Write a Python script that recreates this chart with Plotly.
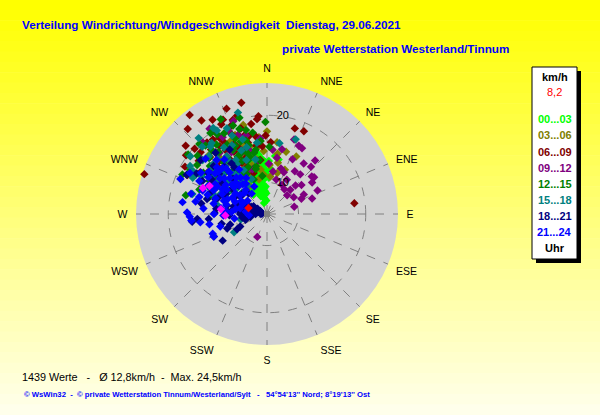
import plotly.graph_objects as go

# Stundengruppen und Farben wie in der WsWin-Grafik
groups = ["00...03", "03...06", "06...09", "09...12", "12...15", "15...18", "18...21", "21...24"]
colors = ["#00ff00", "#808000", "#800000", "#800080", "#008000", "#008080", "#000080", "#0000ff"]

compass = ["N", "NNE", "NE", "ENE", "E", "ESE", "SE", "SSE",
           "S", "SSW", "SW", "WSW", "W", "WNW", "NW", "NNW"]
compass_deg = [0, 22.5, 45, 67.5, 90, 112.5, 135, 157.5,
               180, 202.5, 225, 247.5, 270, 292.5, 315, 337.5]

# Richtung (Grad) und Geschwindigkeit (km/h)
dir_00_03 = [350, 345, 355, 340, 358, 348, 352, 338, 344, 356, 349, 342, 335, 347, 353, 359, 346, 341,
             351, 337, 354, 343, 330, 348, 2, 5, 8, 357, 350, 333, 345, 339, 352, 346, 328, 355, 340,
             349, 344, 351, 336, 347, 12, 3, 358, 342, 353, 325, 348, 343,
             347, 343, 356, 339, 351, 334, 345, 357, 341, 349, 337, 353, 331, 346, 355, 340, 350, 344,
             358, 336]
spd_00_03 = [9.5, 10.2, 11.0, 12.1, 8.4, 13.0, 14.2, 9.0, 11.5, 12.6, 7.8, 13.6, 10.8, 8.9, 10.4, 11.8,
             14.8, 8.1, 12.9, 12.4, 9.2, 10.9, 9.6, 11.3, 13.2, 12.0, 14.0, 7.3, 14.6, 11.9, 7.0, 13.9,
             9.8, 12.2, 10.1, 13.5, 10.5, 11.1, 8.6, 7.6, 12.8, 9.9, 13.6, 10.7, 11.4, 12.5, 8.2, 8.8,
             10.0, 14.3,
             9.1, 12.7, 10.6, 11.0, 13.8, 12.3, 14.0, 9.4, 8.3, 12.0, 13.3, 11.6, 12.6, 10.3, 8.7, 13.1,
             10.9, 9.7, 13.0, 11.7]

dir_03_06 = [8, 17, 27, 3, 350, 340, 335, 355, 12, 345, 330, 325, 0, 352, 22, 338, 347, 5, 342, 318,
             357, 333, 14, 349, 328, 336, 344, 10, 354, 320,
             337, 343, 331, 348, 326, 339, 352, 334, 322, 346,
             315, 323, 330, 310, 338, 345]
spd_03_06 = [16.1, 15.0, 14.9, 12.6, 13.5, 14.2, 16.0, 11.2, 13.1, 17.0, 12.8, 15.5, 17.6, 15.4, 12.4,
             11.8, 10.6, 10.9, 16.6, 13.9, 14.7, 17.4, 11.6, 12.3, 10.2, 13.0, 15.1, 14.4, 16.8, 16.4,
             14.8, 12.9, 14.1, 13.8, 13.0, 15.9, 12.0, 11.4, 14.9, 15.7,
             17.6, 18.5, 16.2, 15.4, 18.0, 19.0]

dir_06_09 = [347, 333, 317, 306, 288, 83, 18, 24, 359, 322, 338, 328, 312, 343, 350, 325, 315, 330,
             340, 308, 320, 335, 355, 302, 345, 318, 327, 310, 336, 352, 341, 314, 323, 332, 305, 348,
             300, 326, 339, 356, 319, 311, 334, 344, 329, 304, 321, 337, 353, 316, 3, 296, 331, 342,
             339, 325, 354,
             321, 329, 337, 343, 313, 333, 347, 326, 318, 340, 309, 335, 351, 324, 330]
spd_06_09 = [22.3, 20.3, 22.6, 20.2, 24.5, 18.4, 18.7, 18.8, 17.0, 24.0, 19.5, 18.7, 19.8, 20.6, 18.9,
             17.6, 17.3, 21.5, 17.8, 18.2, 19.2, 16.8, 19.9, 17.0, 16.3, 15.9, 16.6, 21.1, 18.3, 16.9,
             15.2, 15.6, 14.9, 15.8, 16.1, 14.7, 19.4, 20.0, 14.2, 15.4, 18.0, 14.1, 13.8, 17.5, 14.5,
             13.6, 13.3, 12.9, 13.4, 12.6, 16.0, 18.5, 12.1, 11.7, 22.1, 22.3, 19.5,
             17.0, 17.9, 16.0, 18.6, 18.8, 14.8, 17.2, 15.0, 19.6, 20.2, 15.4, 20.8, 15.6, 19.0, 13.9]

dir_09_12 = [43, 71, 66, 44, 45, 13, 33, 203, 17, 326, 55, 50, 25, 25, 50, 30, 62, 20, 42, 35, 10, 40,
             58, 28, 75, 52, 15, 5, 340, 335, 320, 345, 350, 355, 330, 22, 36, 47, 8, 65, 310, 315, 342,
             2, 27,
             315, 322, 330, 338, 345, 305, 318, 326, 334, 300, 312, 340]
spd_09_12 = [14.9, 12.4, 10.9, 10.3, 11.3, 15.2, 12.9, 9.0, 12.4, 20.6, 13.5, 14.0, 16.5, 14.3, 12.0,
             11.2, 11.5, 17.1, 16.0, 9.8, 13.8, 13.0, 10.0, 16.4, 9.5, 14.2, 10.6, 14.9, 17.8, 19.0,
             17.3, 15.0, 13.3, 16.6, 15.9, 12.0, 14.6, 9.4, 11.7, 13.6, 18.3, 16.2, 12.3, 12.8, 10.2,
             14.5, 16.8, 18.5, 15.2, 17.4, 13.0, 19.6, 13.8, 12.2, 15.0, 11.6, 20.0]

dir_12_15 = [307, 283, 295, 359, 320, 330, 340, 345, 310, 315, 325, 335, 350, 300, 318, 328, 338, 348,
             355, 305, 312, 322, 332, 342, 352, 298, 316, 326, 336, 346, 303, 313, 323, 333, 343, 353,
             290, 309, 319, 329, 339, 2, 286, 344, 334,
             314, 327, 341, 320, 333, 347, 306, 324, 337, 317, 331, 350, 311, 344, 328,
             303, 310, 318, 325, 332, 339, 346, 300, 314, 321, 335, 342]
spd_12_15 = [20.0, 17.7, 19.2, 19.0, 18.5, 17.2, 16.8, 15.9, 16.4, 14.8, 15.6, 14.0, 17.6, 15.2, 13.2,
             19.3, 12.8, 14.6, 16.2, 18.0, 12.4, 17.0, 16.1, 18.6, 13.4, 13.8, 19.8, 13.0, 15.1, 12.2,
             11.8, 15.8, 11.4, 12.0, 14.2, 11.0, 16.0, 13.6, 17.8, 14.4, 10.8, 15.3, 14.3, 20.2, 21.0,
             17.3, 12.6, 13.8, 15.3, 14.9, 12.6, 14.9, 18.1, 17.5, 12.0, 16.6, 15.0, 15.8, 16.7, 11.9,
             16.6, 18.8, 19.0, 20.0, 18.9, 19.4, 18.2, 18.5, 14.1, 13.5, 16.5, 14.9]

dir_15_18 = [21, 344, 241, 258, 300, 310, 320, 330, 305, 315, 325, 335, 295, 290, 312, 322, 332, 342,
             302, 308, 318, 328, 338, 285, 298, 348, 326, 316, 306, 296, 352, 336, 292, 311, 321, 280,
             10, 275,
             313, 327, 304, 319, 333, 299, 309, 324, 339, 317, 294, 329,
             300, 307, 315, 322, 329, 336, 343, 296, 303, 318, 325, 311]
spd_15_18 = [17.2, 21.0, 10.9, 9.3, 16.5, 17.8, 18.4, 14.6, 13.2, 12.6, 15.8, 19.4, 15.0, 13.8, 14.2,
             11.6, 12.7, 17.0, 18.8, 11.2, 16.3, 20.4, 15.5, 16.8, 12.0, 13.6, 10.4, 19.2, 15.2, 17.6,
             16.0, 11.0, 11.9, 10.2, 13.0, 12.8, 16.0, 10.6,
             16.2, 17.1, 14.1, 14.7, 16.8, 17.4, 13.0, 12.3, 13.9, 11.8, 12.8, 14.0,
             18.0, 19.6, 17.5, 18.7, 19.8, 18.1, 15.7, 16.3, 12.7, 20.5, 14.8, 15.9]

dir_18_21 = [266, 239, 247, 254, 270, 275, 280, 285, 290, 295, 300, 272, 278, 283, 288, 293, 298, 305,
             310, 268, 262, 258, 276, 282, 287, 292, 297, 302, 265, 250, 245, 260, 274, 279, 286, 291,
             296, 315, 320, 325, 330, 308, 255, 264, 271, 284, 289, 243, 312, 318,
             277, 281, 287, 273, 269, 294, 299, 284,
             283, 289, 295, 279, 286, 292, 298, 303, 276, 282, 300, 288, 306, 294, 270,
             305, 312, 318, 325, 300, 309, 316, 296]
spd_18_21 = [15.7, 13.0, 13.9, 11.0, 7.0, 7.4, 6.8, 7.9, 8.3, 9.1, 7.6, 8.8, 9.6, 10.4, 11.8, 12.5, 10.7,
             13.4, 14.6, 10.9, 9.0, 12.2, 12.9, 6.5, 9.9, 14.2, 16.1, 15.0, 14.0, 11.6, 9.7, 7.8, 11.2,
             15.2, 13.3, 6.6, 12.1, 11.3, 17.2, 13.8, 16.4, 10.1, 8.6, 16.5, 13.1, 14.5, 7.2, 10.3, 12.0,
             9.4, 6.0, 7.7, 6.3, 8.1, 6.2, 7.1, 6.9, 8.9,
             7.3, 6.7, 7.9, 8.4, 9.2, 9.5, 8.8, 10.0, 10.5, 11.4, 12.3, 13.0, 11.7, 6.4, 9.3,
             15.9, 16.0, 14.8, 14.5, 17.4, 18.0, 12.6, 18.6]

dir_21_24 = [292, 247, 285, 290, 300, 305, 310, 315, 320, 325, 280, 275, 270, 265, 260, 255, 295, 298,
             302, 308, 312, 318, 322, 328, 283, 287, 278, 273, 268, 263, 268, 294, 297, 303, 306, 313,
             316, 323, 330, 335, 288, 282, 277, 271, 262, 250, 299, 304, 309, 314, 319, 324, 296, 301,
             286, 291, 276, 266, 311, 317,
             294, 302, 310, 318, 287, 281, 296, 305, 313, 321, 290, 284, 299, 307, 274, 279, 293, 316]
spd_21_24 = [19.2, 13.9, 17.0, 15.5, 14.2, 12.8, 13.6, 11.9, 12.4, 10.8, 16.1, 14.8, 13.2, 16.6, 14.0,
             12.5, 11.0, 18.3, 16.9, 15.1, 17.6, 14.4, 15.6, 13.1, 11.5, 13.3, 18.0, 10.6, 11.8, 15.3,
             16.8, 12.6, 9.6, 10.9, 16.0, 9.9, 11.2, 9.1, 11.5, 9.8, 14.6, 9.4, 12.2, 17.2, 10.2, 13.9,
             13.8, 8.8, 11.6, 13.0, 10.1, 12.0, 15.0, 12.3, 8.3, 10.4, 8.5, 8.0, 14.9, 16.3,
             14.0, 15.6, 12.1, 13.6, 12.0, 13.4, 16.5, 10.2, 15.5, 11.0, 11.6, 15.7, 12.9, 14.1, 11.4,
             10.0, 9.2, 14.8]

dir_magenta = [292, 276, 296, 268]
spd_magenta = [15.6, 12.2, 14.8, 11.5]

current_dir = [288]
current_spd = [8.2]

speed_min = 5.3
speed_max = 24.8

series = [(dir_00_03, spd_00_03), (dir_03_06, spd_03_06), (dir_06_09, spd_06_09), (dir_09_12, spd_09_12),
          (dir_12_15, spd_12_15), (dir_15_18, spd_15_18), (dir_18_21, spd_18_21), (dir_21_24, spd_21_24)]

msize = 6.5

fig = go.Figure()
for name, col, (d, s) in zip(groups, colors, series):
    fig.add_trace(go.Scatterpolar(r=s, theta=d, mode="markers", name=name,
                                  marker=dict(symbol="diamond", size=msize, color=col)))
fig.add_trace(go.Scatterpolar(r=spd_magenta, theta=dir_magenta, mode="markers",
                              marker=dict(symbol="diamond", size=msize, color="#ff00ff")))
fig.add_trace(go.Scatterpolar(r=current_spd, theta=current_dir, mode="markers",
                              marker=dict(symbol="diamond", size=msize, color="#ff0000")))
# grauer Mittelpunkt
fig.add_trace(go.Scatterpolar(r=[speed_min], theta=[0], mode="markers",
                              marker=dict(symbol="square", size=6, color="#808080")))

W, H = 600, 415


def px(x):
    return x / W


def py(y):
    return 1 - y / H


# Hintergrund: Verlauf gelb -> hellgelb
shapes = []
n_strips = 40
for i in range(n_strips):
    t = i / (n_strips - 1)
    b = int(0 + t * 235)
    shapes.append(dict(type="rect", xref="paper", yref="paper", x0=0, x1=1,
                       y0=1 - (i + 1) / n_strips, y1=1 - i / n_strips + 0.001,
                       fillcolor=f"rgb(255,255,{b})", line=dict(width=0), layer="below"))

# Legendenkasten mit Schatten
shapes.append(dict(type="rect", xref="paper", yref="paper", x0=px(536), x1=px(581), y0=py(263), y1=py(71),
                   fillcolor="black", line=dict(width=0)))
shapes.append(dict(type="rect", xref="paper", yref="paper", x0=px(532), x1=px(577), y0=py(259), y1=py(67),
                   fillcolor="white", line=dict(color="black", width=1)))

font = "Liberation Sans, Arial, sans-serif"

annotations = [
    dict(text="<b>Verteilung Windrichtung/Windgeschwindigkeit\u00a0 Dienstag, 29.06.2021</b>",
         x=px(20), y=py(25), xanchor="left", yanchor="middle",
         font=dict(family=font, size=11.7, color="#0000ff")),
    dict(text="<b>private Wetterstation Westerland/Tinnum</b>",
         x=px(511), y=py(48), xanchor="right", yanchor="middle",
         font=dict(family=font, size=11.7, color="#0000ff")),
    dict(text="1439 Werte\u00a0\u00a0 -\u00a0\u00a0 Ø 12,8km/h\u00a0 -\u00a0 Max. 24,5km/h",
         x=px(20), y=py(377), xanchor="left", yanchor="middle",
         font=dict(family=font, size=10.8, color="black")),
    dict(text="<b>© WsWin32\u00a0 -\u00a0 © private Wetterstation Tinnum/Westerland/Sylt\u00a0\u00a0 -\u00a0\u00a0 "
              "54°54'13'' Nord; 8°19'13'' Ost</b>",
         x=px(22), y=py(394), xanchor="left", yanchor="middle",
         font=dict(family=font, size=7.7, color="#0000ff")),
    dict(text="<b>km/h</b>", x=px(554.5), y=py(77), xanchor="center", yanchor="middle",
         font=dict(family=font, size=11, color="black")),
    dict(text="8,2", x=px(554.5), y=py(92), xanchor="center", yanchor="middle",
         font=dict(family=font, size=11, color="#ff0000")),
    dict(text="<b>Uhr</b>", x=px(554.5), y=py(248), xanchor="center", yanchor="middle",
         font=dict(family=font, size=11, color="black")),
]
legend_y = [119, 135, 151.5, 167.5, 184, 200, 216, 232]
for name, col, ly in zip(groups, colors, legend_y):
    annotations.append(dict(text=f"<b>{name}</b>", x=px(554.5), y=py(ly), xanchor="center", yanchor="middle",
                            font=dict(family=font, size=11, color=col)))
for a in annotations:
    a.update(xref="paper", yref="paper", showarrow=False)

R = 131
cx, cy = 267, 214
fig.update_layout(
    width=W, height=H,
    margin=dict(l=0, r=0, t=0, b=0),
    paper_bgcolor="#ffffe0",
    showlegend=False,
    shapes=shapes,
    annotations=annotations,
    polar=dict(
        domain=dict(x=[px(cx - R), px(cx + R)], y=[py(cy + R), py(cy - R)]),
        bgcolor="#d3d3d3",
        angularaxis=dict(rotation=90, direction="clockwise", tickmode="array",
                         tickvals=compass_deg, ticktext=compass, showline=False,
                         ticks="outside", ticklen=6, tickcolor="rgba(0,0,0,0)",
                         gridcolor="#808080", griddash="dash", gridwidth=1,
                         tickfont=dict(family=font, size=10.5, color="black")),
        radialaxis=dict(range=[speed_min, speed_max], tickmode="array", tickvals=[10, 20],
                        ticktext=["\u00a0\u00a0\u00a010", "\u00a0\u00a0\u00a020"], angle=90,
                        side="clockwise", tickangle=90, layer="above traces",
                        showline=False, ticks="", gridcolor="#808080", griddash="dash", gridwidth=1,
                        tickfont=dict(family=font, size=11, color="black")),
    ),
)

# Seitenrand des Browsers entfernen, damit die Grafik bei 0,0 beginnt
fig.write_html("out.html", config={"displayModeBar": False},
               post_script="document.body.style.margin='0';")
